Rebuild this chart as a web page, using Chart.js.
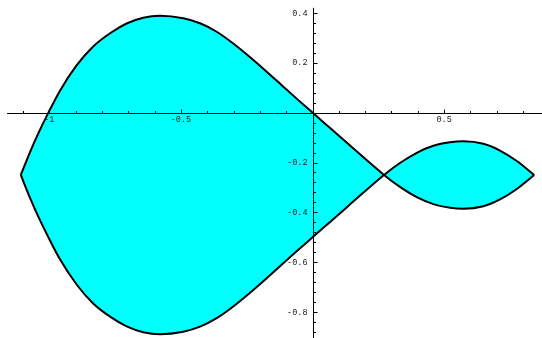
<!DOCTYPE html>
<html>
<head>
<meta charset="utf-8">
<script src="https://cdn.jsdelivr.net/npm/chart.js@4.4.1/dist/chart.umd.min.js"></script>
<style>
  html, body { margin: 0; padding: 0; background: #fff; }
  #plot { display: block; }
</style>
</head>
<body>
<canvas id="plot" width="542" height="338"></canvas>
<script>
// Outline of the region: upper and lower boundary sampled on the same x values
const curveX = [-1.108, -1.070, -1.041, -1.003, -0.959, -0.896, -0.833, -0.766, -0.706, -0.643,
                -0.579, -0.491, -0.427, -0.364, -0.301, -0.237, -0.174, -0.111, -0.055, 0,
                0.068, 0.136, 0.2716, 0.332, 0.396, 0.459, 0.522, 0.573, 0.649, 0.712, 0.776, 0.842];
const upperY = [-0.25, -0.151, -0.082, 0.0, 0.088, 0.189, 0.265, 0.320, 0.357, 0.380,
                0.388, 0.378, 0.358, 0.324, 0.277, 0.222, 0.164, 0.104, 0.051, 0,
                -0.063, -0.126, -0.25, -0.298, -0.339, -0.367, -0.381, -0.385, -0.375, -0.348, -0.306, -0.25];
const lowerY = [-0.25, -0.349, -0.418, -0.5, -0.588, -0.689, -0.765, -0.820, -0.857, -0.880,
                -0.888, -0.878, -0.858, -0.824, -0.777, -0.722, -0.664, -0.604, -0.551, -0.5,
                -0.437, -0.374, -0.25, -0.202, -0.161, -0.133, -0.119, -0.115, -0.125, -0.152, -0.194, -0.25];

// Axis ticks and labels
const xMajor = [-1, -0.5, 0.5];
const xLabels = ['-1', '-0.5', '0.5'];
const yMajor = [0.4, 0.2, -0.2, -0.4, -0.6, -0.8];
const yLabels = ['0.4', '0.2', '-0.2', '-0.4', '-0.6', '-0.8'];

const FILL = '#00ffff';
const LABEL_FONT = '8.5px "Liberation Mono", "DejaVu Sans Mono", monospace';

function pts(xs, ys) { return xs.map((x, i) => ({ x: x, y: ys[i] })); }

// axes through the origin, ticks on the positive side (Mathematica style)
const originAxes = {
    id: 'originAxes',
    beforeDatasetsDraw(chart) {
        const ctx = chart.ctx;
        const sx = chart.scales.x, sy = chart.scales.y;
        const x0 = Math.round(sx.getPixelForValue(0)) + 0.5;
        const y0 = Math.round(sy.getPixelForValue(0)) + 0.5;
        ctx.save();
        ctx.strokeStyle = '#000';
        ctx.lineWidth = 1;
        ctx.beginPath();
        ctx.moveTo(sx.getPixelForValue(-1.16), y0);
        ctx.lineTo(sx.getPixelForValue(0.872), y0);
        ctx.moveTo(x0, sy.getPixelForValue(0.42));
        ctx.lineTo(x0, sy.getPixelForValue(-0.91));
        // x ticks every 0.1, longer at the labelled ones
        for (let k = -11; k <= 8; k++) {
            if (k === 0) continue;
            const px = Math.round(sx.getPixelForValue(k / 10)) + 0.5;
            const len = (k % 5 === 0) ? 4 : 2.5;
            ctx.moveTo(px, y0);
            ctx.lineTo(px, y0 - len);
        }
        // y ticks every 0.04
        for (let k = 10; k >= -22; k--) {
            if (k === 0) continue;
            const py = Math.round(sy.getPixelForValue(k * 0.04)) + 0.5;
            const len = (k % 5 === 0) ? 4 : 2.5;
            ctx.moveTo(x0, py);
            ctx.lineTo(x0 + len, py);
        }
        ctx.stroke();

        ctx.fillStyle = '#222';
        ctx.font = LABEL_FONT;
        ctx.textAlign = 'center';
        ctx.textBaseline = 'middle';
        xMajor.forEach((v, i) => {
            ctx.fillText(xLabels[i], sx.getPixelForValue(v), y0 + 6.5);
        });
        ctx.textAlign = 'right';
        yMajor.forEach((v, i) => {
            ctx.fillText(yLabels[i], x0 - 6, sy.getPixelForValue(v) + 0.5);
        });
        ctx.restore();
    }
};

const lineStyle = {
    showLine: true,
    borderColor: '#000',
    borderWidth: 2,
    backgroundColor: FILL,
    cubicInterpolationMode: 'monotone',
    pointRadius: 0
};

new Chart(document.getElementById('plot'), {
    type: 'scatter',
    data: {
        datasets: [
            Object.assign({ data: pts(curveX, upperY), fill: { target: '+1', above: FILL, below: FILL } }, lineStyle),
            Object.assign({ data: pts(curveX, lowerY), fill: false }, lineStyle)
        ]
    },
    options: {
        responsive: false,
        animation: false,
        layout: { padding: 0 },
        plugins: {
            legend: { display: false },
            tooltip: { enabled: false },
            filler: { drawTime: 'beforeDatasetsDraw' }
        },
        scales: {
            x: { type: 'linear', display: false, min: -1.1869, max: 0.8716 },
            y: { type: 'linear', display: false, min: -0.9034, max: 0.4513 }
        }
    },
    plugins: [originAxes]
});
</script>
</body>
</html>
